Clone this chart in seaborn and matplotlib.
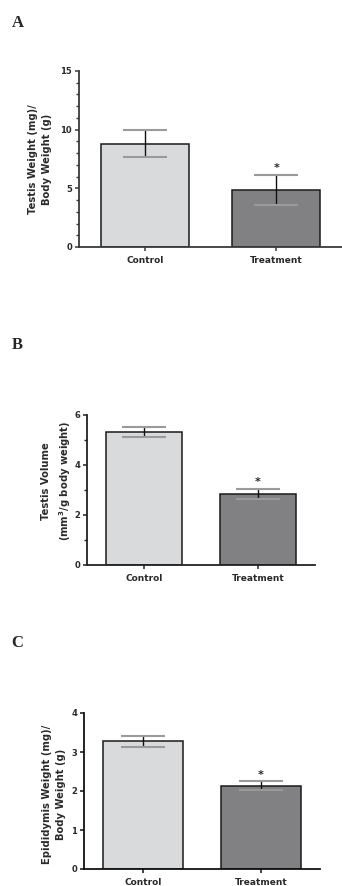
import numpy as np
import pandas as pd
import matplotlib
matplotlib.use("Agg")
import matplotlib.pyplot as plt
import seaborn as sns
from matplotlib.ticker import MultipleLocator

# ---- data ----
groups = ["Control", "Treatment"]
testis_weight = [8.8, 4.85]
testis_weight_se = [1.15, 1.3]
testis_volume = [5.33, 2.86]
testis_volume_se = [0.19, 0.2]
epid_weight = [3.28, 2.14]
epid_weight_se = [0.14, 0.11]
signif = ["", "*"]
panel_letters = ["A", "B", "C"]
ylabels = ["Testis Weight (mg)/\nBody Weight (g)",
           "Testis Volume\n(mm$^{3}$/g body weight)",
           "Epididymis Weight (mg)/\nBody Weight (g)"]

sns.set_style("ticks")
plt.rcParams["font.family"] = ["DejaVu Sans"]
plt.rcParams["mathtext.default"] = "bf"

W, H = 342, 886
fig = plt.figure(figsize=(W / 100, H / 100), dpi=100)

def px_axes(left, top, right, bottom):
    return fig.add_axes([left / W, 1 - bottom / H, (right - left) / W, (bottom - top) / H])

colors = ["#d9dadc", "#808185"]

panels = [
    dict(box=(79, 71, 342, 247), vals=testis_weight, se=testis_weight_se,
         ylim=15, major=5, minor=1, lab=(40, 159), letter=(18, 23), spine="#3a3a3a"),
    dict(box=(87, 415, 315, 565), vals=testis_volume, se=testis_volume_se,
         ylim=6, major=2, minor=1, lab=(57, 481), letter=(17, 345), spine="#222222"),
    dict(box=(84, 713, 320, 869), vals=epid_weight, se=epid_weight_se,
         ylim=4, major=1, minor=None, lab=(54, 794), letter=(17, 643), spine="#111111"),
]

for i, p in enumerate(panels):
    ax = px_axes(*p["box"])
    df = pd.DataFrame({"group": groups, "value": p["vals"]})
    sns.barplot(data=df, x="group", y="value", hue="group", palette=colors,
                legend=False, width=0.67, edgecolor="#1a1a1a", linewidth=1.1,
                errorbar=None, ax=ax, zorder=2)
    xs = np.arange(len(groups))
    _, caps, bars = ax.errorbar(xs, p["vals"], yerr=p["se"], fmt="none",
                                ecolor="#111111", elinewidth=1.0, capsize=16,
                                capthick=1.5, zorder=3)
    for c in caps:
        c.set_markeredgecolor("#9a9a9a")
        c.set_color("#9a9a9a")
    for x, v, e, s in zip(xs, p["vals"], p["se"], signif):
        if s:
            ax.annotate(s, (x, v + e), xytext=(0, 1), textcoords="offset points",
                        ha="center", va="bottom", fontsize=8, fontweight="bold")
    ax.set_xlim(-0.5, 1.5)
    ax.set_ylim(0, p["ylim"])
    ax.yaxis.set_major_locator(MultipleLocator(p["major"]))
    if p["minor"]:
        ax.yaxis.set_minor_locator(MultipleLocator(p["minor"]))
    sns.despine(ax=ax)
    for sp in ["left", "bottom"]:
        ax.spines[sp].set_linewidth(1.3)
        ax.spines[sp].set_color(p["spine"])
    ax.tick_params(axis="y", which="major", length=3, width=1.1, pad=2,
                   labelsize=6, colors=p["spine"])
    ax.tick_params(axis="y", which="minor", length=2, width=1.0, colors=p["spine"])
    ax.tick_params(axis="x", length=3, width=1.1, pad=3.5, labelsize=6.5,
                   colors=p["spine"])
    for t in ax.get_xticklabels() + ax.get_yticklabels():
        t.set_fontweight("bold")
        t.set_color("#2a2a2a")
    ax.set_xlabel("")
    ax.set_ylabel(ylabels[i], fontsize=7.2, fontweight="bold", color="#2a2a2a",
                  linespacing=1.5, ha="center", va="center")
    l, t, r, b = p["box"]
    ax.yaxis.set_label_coords((p["lab"][0] - l) / (r - l), (b - p["lab"][1]) / (b - t))
    fig.text(p["letter"][0] / W, 1 - p["letter"][1] / H, panel_letters[i],
             family="Liberation Serif", fontweight="bold", fontsize=12,
             ha="center", va="center")

fig.savefig("out.png", dpi=100)
